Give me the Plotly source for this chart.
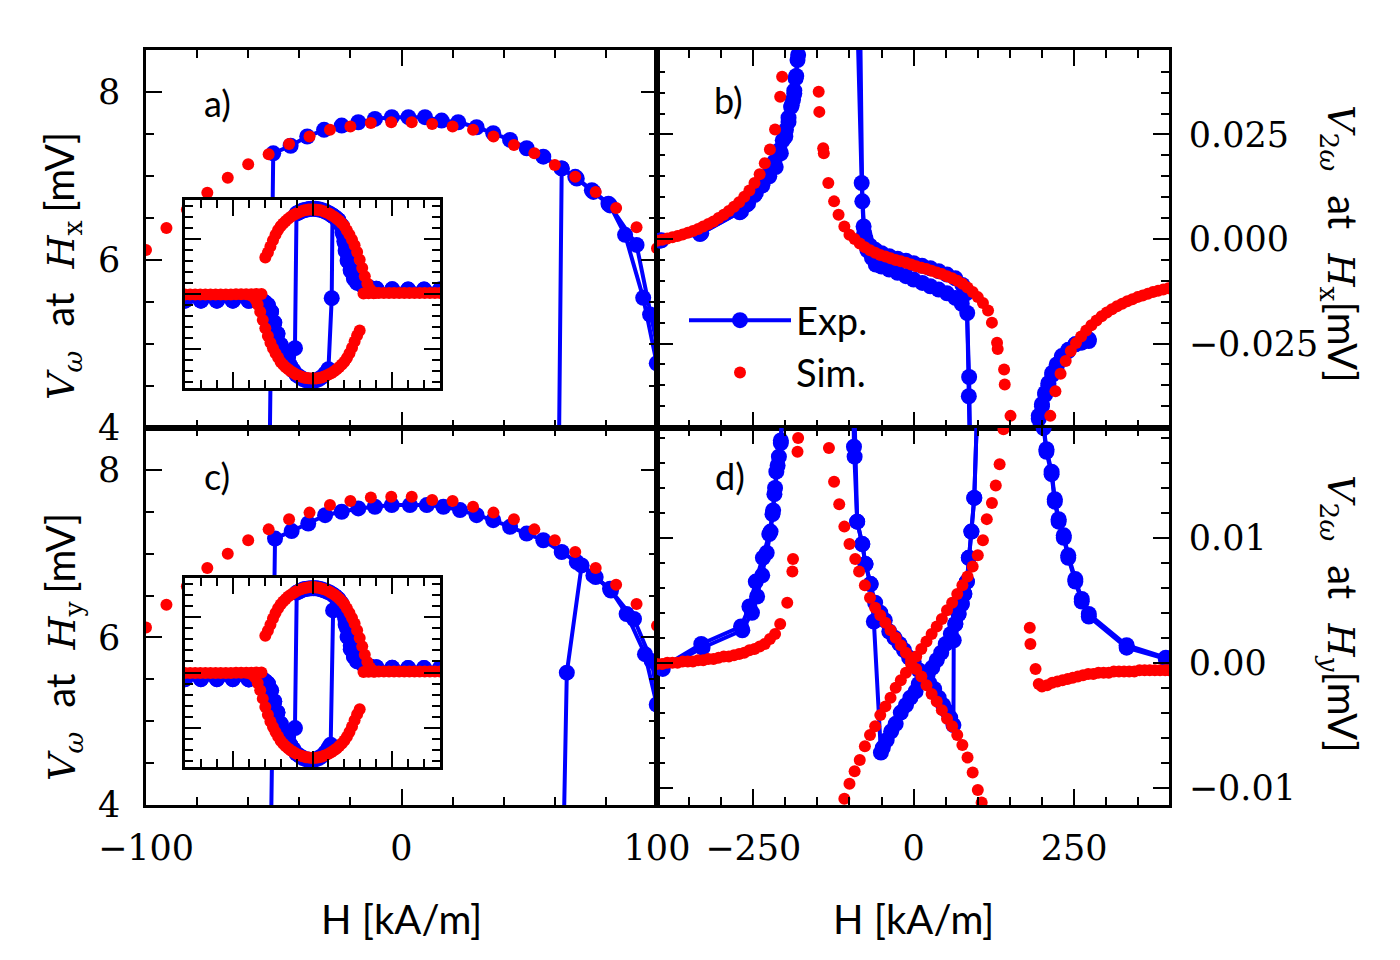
import plotly.graph_objects as go

# ----- Panel a / inset a : first harmonic, field along x -----
exp_hx_dn_h = [400, 350, 300, 250, 200, 180, 160, 140, 130, 120, 110, 104, 99.9, 94.6, 87.5, 81.6, 75.1, 68.6, 62.7, 55.5,
               49.0, 42.5, 35.9, 29.4, 22.2, 15.7, 9.2, 2.7, -3.8, -10.4, -16.9, -23.4, -30.3, -36.9, -43.4, -50.2, -55.0,
               -62.0, -70, -80, -90, -100, -110, -120, -130, -140, -150, -170, -200, -250, -300, -350, -400]
exp_hx_dn_v = [0.4, 0.4, 0.4, 0.42, 0.48, 0.55, 0.7, 1.0, 1.4, 2.1, 3.0, 3.9, 4.77, 5.55, 6.30, 6.65, 6.81, 6.97, 7.09, 7.23,
               7.33, 7.43, 7.51, 7.58, 7.64, 7.66, 7.70, 7.70, 7.70, 7.68, 7.64, 7.60, 7.55, 7.47, 7.36, 7.27, -4.9,
               -6.9, -6.5, -6.0, -5.4, -4.6, -3.6, -2.6, -1.6, -1.0, -0.75, -0.65, -0.62, -0.6, -0.6, -0.6, -0.6]
exp_hx_up_h = [-400, -350, -300, -250, -200, -170, -150, -140, -130, -120, -110, -100, -90, -80, -70, -60, -50, -40, -30,
               -20, -10, 0, 10, 20, 30, 40, 50, 60.3, 62.7, 68.0, 74.5, 81.0, 92.0, 97.3, 102, 106, 112, 120, 130, 140,
               160, 180, 200, 250, 300, 350, 400]
exp_hx_up_v = [-0.6, -0.6, -0.6, -0.6, -0.62, -0.65, -0.75, -1.0, -1.6, -2.6, -3.6, -4.6, -5.4, -6.0, -6.5, -6.9, -7.3,
               -7.5, -7.7, -7.8, -7.85, -7.85, -7.8, -7.7, -7.5, -7.2, -6.8, -0.38, 7.09, 6.99, 6.83, 6.67, 6.18, 5.35,
               4.6, 4.0, 3.2, 2.2, 1.5, 1.05, 0.7, 0.55, 0.48, 0.42, 0.4, 0.4, 0.4]

sim_hump_h = [196, 188, 180, 172, 164, 156, 148, 140, 132, 124, 116, 108, 100, 92, 84, 76, 68, 60, 52, 44, 36, 28, 20,
              12, 4, -4, -12, -20, -28, -36, -44, -52, -60, -68, -76, -84, -92, -100, -108, -116, -124, -132, -140, -148]
sim_dip_h = [-196, -188, -180, -172, -164, -156, -148, -140, -132, -124, -116, -108, -100, -92, -84, -76, -68, -60, -52,
             -44, -36, -28, -20, -12, -4, 4, 12, 20, 28, 36, 44, 52, 60, 68, 76, 84, 92, 100, 108, 116, 124, 132, 140, 148]
sim_flat_h = [-400, -384, -368, -352, -336, -320, -304, -288, -272, -256, -240, -224, -208, -192, -176, -160,
              160, 176, 192, 208, 224, 240, 256, 272, 288, 304, 320, 336, 352, 368, 384, 400]
sim_flat_v = [-0.05, -0.05, -0.05, -0.05, -0.05, -0.05, -0.05, -0.04, -0.04, -0.04, -0.03, -0.03, -0.02, -0.02, -0.01, 0.0,
              0.05, 0.06, 0.07, 0.08, 0.08, 0.09, 0.09, 0.1, 0.1, 0.1, 0.1, 0.1, 0.1, 0.1, 0.1, 0.1]

sim_hx_hump_v = [0.1, 0.2, 0.45, 0.95, 1.6, 2.35, 3.1, 3.8, 4.4, 4.9, 5.35, 5.75, 6.14, 6.39, 6.62, 6.81, 6.99, 7.13,
                 7.27, 7.37, 7.47, 7.55, 7.59, 7.62, 7.64, 7.64, 7.63, 7.59, 7.55, 7.47, 7.38, 7.26, 7.14, 6.98, 6.80,
                 6.60, 6.38, 6.12, 5.78, 5.35, 4.85, 4.3, 3.75, 3.3]
sim_hx_dip_v = [-0.1, -0.2, -0.45, -0.95, -1.6, -2.35, -3.1, -3.8, -4.4, -4.9, -5.35, -5.75, -6.14, -6.39, -6.62, -6.81,
                -6.99, -7.13, -7.27, -7.37, -7.47, -7.55, -7.59, -7.62, -7.64, -7.64, -7.63, -7.59, -7.55, -7.47, -7.38,
                -7.26, -7.14, -6.98, -6.80, -6.60, -6.38, -6.12, -5.78, -5.35, -4.85, -4.3, -3.75, -3.3]

# ----- Panel c / inset c : first harmonic, field along y -----
exp_hy_dn_h = [400, 350, 300, 250, 200, 180, 160, 140, 130, 120, 110, 104, 99.9, 95.3, 88.1, 81.6, 75.1, 68.6, 62.7, 55.5,
               49.0, 42.5, 35.9, 29.4, 22.9, 16.4, 9.9, 3.3, -3.8, -10.4, -16.9, -23.4, -29.9, -36.5, -43.0, -49.5, -55.0,
               -62.0, -70, -80, -90, -100, -110, -120, -130, -140, -150, -170, -200, -250, -300, -350, -400]
exp_hy_dn_v = [0.4, 0.4, 0.4, 0.42, 0.48, 0.55, 0.7, 1.0, 1.4, 2.1, 3.2, 4.3, 5.20, 5.80, 6.28, 6.58, 6.74, 6.90, 7.02, 7.16,
               7.24, 7.32, 7.40, 7.46, 7.52, 7.56, 7.58, 7.58, 7.58, 7.56, 7.54, 7.50, 7.46, 7.36, 7.27, 7.18, -5.0,
               -6.9, -6.5, -6.0, -5.4, -4.6, -3.6, -2.6, -1.6, -1.0, -0.75, -0.65, -0.62, -0.6, -0.6, -0.6, -0.6]
exp_hy_up_h = [-400, -350, -300, -250, -200, -170, -150, -140, -130, -120, -110, -100, -90, -80, -70, -60, -50, -40, -30,
               -20, -10, 0, 10, 20, 30, 40, 50, 57, 64.7, 70.5, 76.0, 82.0, 91.0, 97.9, 103, 108, 114, 120, 130, 140,
               160, 180, 200, 250, 300, 350, 400]
exp_hy_up_v = [-0.6, -0.6, -0.6, -0.6, -0.62, -0.65, -0.75, -1.0, -1.6, -2.6, -3.6, -4.6, -5.4, -6.0, -6.5, -6.9, -7.3,
               -7.5, -7.7, -7.8, -7.85, -7.85, -7.8, -7.7, -7.5, -7.2, -6.8, -6.5, 5.58, 6.86, 6.72, 6.56, 6.22, 5.72,
               4.8, 4.0, 3.2, 2.4, 1.5, 1.05, 0.7, 0.55, 0.48, 0.42, 0.4, 0.4, 0.4]
sim_hy_hump_v = [0.1, 0.2, 0.45, 0.95, 1.6, 2.35, 3.1, 3.8, 4.4, 4.9, 5.35, 5.75, 6.14, 6.40, 6.63, 6.83, 7.02, 7.16,
                 7.29, 7.41, 7.49, 7.56, 7.63, 7.64, 7.68, 7.68, 7.67, 7.63, 7.58, 7.49, 7.41, 7.29, 7.16, 7.00, 6.83,
                 6.61, 6.39, 6.12, 5.78, 5.35, 4.85, 4.3, 3.75, 3.3]
sim_hy_dip_v = [-0.1, -0.2, -0.45, -0.95, -1.6, -2.35, -3.1, -3.8, -4.4, -4.9, -5.35, -5.75, -6.14, -6.40, -6.63, -6.83,
                -7.02, -7.16, -7.29, -7.41, -7.49, -7.56, -7.63, -7.64, -7.68, -7.68, -7.67, -7.63, -7.58, -7.49, -7.41,
                -7.29, -7.16, -7.00, -6.83, -6.61, -6.39, -6.12, -5.78, -5.35, -4.85, -4.3, -3.75, -3.3]

# ----- Panel b : second harmonic, field along x -----
exp_b_up_h = [-393, -331, -269, -258, -246, -235, -225, -217, -209, -204, -199, -195, -191, -188, -186, -184, -181, -170,
              -120, -89, -81, -77, -72, -65, -59, -50, -38, -25, -12, 0, 13.5, 26, 39, 52, 65, 75, 83.5, 86, 90, 140,
              180, 192, 195, 200, 205, 210, 216, 223, 231, 241, 252, 262, 273]
exp_b_up_v = [-0.0003, 0.0014, 0.0066, 0.0085, 0.0110, 0.0135, 0.0157, 0.0185, 0.0213, 0.0236, 0.0261, 0.0290, 0.0316,
              0.0333, 0.0348, 0.0384, 0.0428, 0.07, 0.12, 0.06, 0.0134, 0.0014, -0.0027, -0.0045, -0.0061, -0.0066,
              -0.0073, -0.0081, -0.0089, -0.0097, -0.0105, -0.0113, -0.0121, -0.0130, -0.0141, -0.0155, -0.0177,
              -0.0376, -0.07, -0.12, -0.09, -0.046, -0.0423, -0.0395, -0.0368, -0.0345, -0.0320, -0.0300, -0.0280,
              -0.0265, -0.0252, -0.0248, -0.0244]
exp_b_dn_h = [273, 262, 252, 241, 231, 223, 216, 210, 205, 200, 195, 191, 180, 120, 90, 86.5, 82, 76, 65, 52, 39, 26, 13,
              0, -12, -25, -38, -50, -60, -68, -75, -78, -80, -84, -120, -176, -180, -183, -186, -190, -195, -200, -207,
              -215, -225, -236, -248, -260, -271, -333, -395]
exp_b_dn_v = [-0.0240, -0.0246, -0.0252, -0.0268, -0.0285, -0.0305, -0.0325, -0.0350, -0.0372, -0.0400, -0.0430, -0.0470,
              -0.09, -0.12, -0.07, -0.0330, -0.0130, -0.0110, -0.0094, -0.0085, -0.0077, -0.0070, -0.0064, -0.0058,
              -0.0052, -0.0047, -0.0041, -0.0034, -0.0026, -0.0016, 0.0002, 0.0030, 0.0090, 0.06, 0.12, 0.07, 0.0440,
              0.0390, 0.0355, 0.0320, 0.0280, 0.0245, 0.0205, 0.0172, 0.0150, 0.0128, 0.0105, 0.0082, 0.0064, 0.0012,
              -0.0004]
sim_b_h = [-400, -392, -384, -376, -368, -360, -352, -344, -336, -328, -320, -312, -304, -296, -288, -280, -272, -264,
           -256, -248, -240, -232, -224, -216, -208, -205,
           -148, -147, -141, -140, -133, -124, -117, -108, -100, -92, -84, -76, -68, -60, -52, -44, -36, -28, -20, -12,
           -4, 4, 12, 20, 28, 36, 44, 52, 60, 68, 76, 84, 92, 100, 108, 116, 122, 130, 131, 141, 142, 151,
           213, 221, 229, 237, 245, 253, 261, 269, 277, 285, 293, 301, 309, 317, 325, 333, 341, 349, 357, 365, 373,
           381, 389, 397]
sim_b_v = [-0.0004, -0.0002, 0.0001, 0.0004, 0.0007, 0.0011, 0.0015, 0.0019, 0.0024, 0.0030, 0.0036, 0.0042, 0.0050,
           0.0058, 0.0067, 0.0077, 0.0088, 0.0101, 0.0116, 0.0134, 0.0155, 0.0181, 0.0214, 0.0262, 0.0340, 0.0388,
           0.0352, 0.0304, 0.0217, 0.0205, 0.0134, 0.0090, 0.0058, 0.0030, 0.0010, 0.0000, -0.0011, -0.0020, -0.0027,
           -0.0033, -0.0038, -0.0042, -0.0046, -0.0050, -0.0053, -0.0057, -0.0061, -0.0065, -0.0069, -0.0072, -0.0076,
           -0.0080, -0.0084, -0.0089, -0.0094, -0.0100, -0.0107, -0.0116, -0.0127, -0.0139, -0.0153, -0.0171, -0.0200,
           -0.0248, -0.0263, -0.0312, -0.0348, -0.0423,
           -0.0423, -0.0364, -0.0322, -0.0292, -0.0268, -0.0249, -0.0233, -0.0219, -0.0206, -0.0195, -0.0185, -0.0176,
           -0.0168, -0.0161, -0.0155, -0.0149, -0.0144, -0.0139, -0.0135, -0.0131, -0.0127, -0.0124, -0.0121, -0.0118]

# ----- Panel d : second harmonic, field along y -----
exp_d_up_h = [-393, -331, -269, -256, -246, -235, -225, -220, -217, -214, -210, -207, -200, -150, -97, -93, -88, -80, -75,
              -67, -60, -52, -45, -38, -30, -22, -15, -7, 0, 8, 16, 24, 32, 39, 46, 52, 57, 62, 62.5, 65, 70, 75, 79,
              83, 86, 90, 94.5, 102, 150, 199, 202.6, 207, 215, 220, 226, 234, 241, 252, 262, 273, 332, 393]
exp_d_up_v = [-0.0004, 0.0015, 0.0029, 0.0045, 0.0065, 0.0084, 0.0103, 0.0119, 0.0135, 0.0153, 0.0165, 0.0176, 0.025,
              0.04, 0.03, 0.0173, 0.0113, 0.0095, 0.0079, 0.0063, 0.0048, 0.0040, 0.0034, 0.0025, 0.0020, 0.0015,
              0.0010, 0.0004, 0.0001, -0.0006, -0.0011, -0.0016, -0.0021, -0.0028, -0.0034, -0.0039, -0.0044, -0.0050,
              0.0018, 0.0031, 0.0039, 0.0047, 0.0055, 0.0065, 0.0084, 0.0105, 0.0132, 0.025, 0.04, 0.025, 0.0188,
              0.0169, 0.0151, 0.0129, 0.0113, 0.0100, 0.0084, 0.0065, 0.0049, 0.0037, 0.0012, 0.0003]
exp_d_dn_h = [393, 332, 273, 262, 252, 241, 234, 226, 220, 215, 207, 202, 199, 150, 102, 94.5, 90, 86, 83, 79, 75, 70,
              65, 58, 50, 43, 36, 29, 22, 15, 8, 3, -5, -12, -20, -28, -35, -42, -48, -51, -62, -67, -75, -80, -88,
              -92, -97, -150, -200, -207, -212, -216, -219, -223, -229, -236, -244, -252, -267, -329, -391]
exp_d_dn_v = [0.0004, 0.0014, 0.0039, 0.0051, 0.0067, 0.0086, 0.0102, 0.0115, 0.0131, 0.0153, 0.0171, 0.0192, 0.025,
              0.04, 0.025, 0.0132, 0.0105, 0.0084, 0.0065, 0.0055, 0.0047, 0.0039, 0.0031, 0.0023, 0.0015, 0.0008,
              0.0002, -0.0004, -0.0009, -0.0013, -0.0017, -0.0023, -0.0028, -0.0034, -0.0040, -0.0049, -0.0055,
              -0.0062, -0.0068, -0.0072, 0.0033, 0.0063, 0.0079, 0.0095, 0.0113, 0.0165, 0.03, 0.04, 0.025, 0.0178,
              0.0158, 0.0140, 0.0122, 0.0105, 0.0088, 0.0070, 0.0053, 0.0040, 0.0026, 0.0012, -0.0005]
sim_d_h = [-400, -392, -384, -376, -368, -360, -352, -344, -336, -328, -320, -312, -304, -296, -288, -280, -272, -264,
           -256, -248, -240, -232, -224, -216, -208, -197, -189, -188, -181, -180,
           -132, -124, -116, -108, -100, -91, -85, -76, -68, -60, -52, -44, -36, -28, -20, -12, -4, 4, 12, 20, 28, 36,
           44, 52, 60, 68, 76, 84, 92, 100, 106,
           -108, -100, -92, -84, -76, -68, -60, -52, -44, -36, -28, -20, -12, -4, 4, 12, 20, 28, 36, 44, 52, 60, 68,
           76, 84, 92, 100, 108, 114, 122, 128, 134, 140,
           181, 182, 190, 195, 200, 208, 216, 224, 232, 240, 248, 256, 264, 272, 280, 288, 296, 304, 312, 320, 328,
           336, 344, 352, 360, 368, 376, 384, 392, 398]
sim_d_v = [-0.0001, -0.0001, 0.0000, 0.0000, 0.0000, 0.0001, 0.0001, 0.0001, 0.0002, 0.0002, 0.0003, 0.0003, 0.0004,
           0.0005, 0.0005, 0.0006, 0.0007, 0.0008, 0.0010, 0.0011, 0.0013, 0.0015, 0.0019, 0.0023, 0.0031, 0.0048,
           0.0073, 0.0083, 0.0169, 0.0180,
           0.0172, 0.0145, 0.0127, 0.0109, 0.0095, 0.0083, 0.0073, 0.0062, 0.0052, 0.0044, 0.0038, 0.0032, 0.0026,
           0.0020, 0.0014, 0.0008, 0.0002, -0.0005, -0.0011, -0.0018, -0.0025, -0.0031, -0.0038, -0.0045, -0.0051,
           -0.0058, -0.0066, -0.0076, -0.0088, -0.0102, -0.0112,
           -0.0109, -0.0097, -0.0087, -0.0078, -0.0067, -0.0058, -0.0051, -0.0042, -0.0035, -0.0028, -0.0020, -0.0014,
           -0.0008, -0.0001, 0.0005, 0.0011, 0.0017, 0.0023, 0.0029, 0.0035, 0.0042, 0.0048, 0.0055, 0.0062, 0.0069,
           0.0077, 0.0086, 0.0098, 0.0115, 0.0128, 0.0142, 0.0159, 0.0187,
           0.0028, 0.0015, -0.0005, -0.0017, -0.0019, -0.0018, -0.0016, -0.0015, -0.0014, -0.0013, -0.0012, -0.0011,
           -0.0010, -0.0009, -0.0009, -0.0008, -0.0008, -0.0008, -0.0007, -0.0007, -0.0007, -0.0007, -0.0007,
           -0.0006, -0.0006, -0.0006, -0.0006, -0.0006, -0.0006, -0.0006]

# the page body has an 8 px margin, so the figure is 8 px smaller than the window
PAGE_OFF = 8
FIG_W, FIG_H = 1400 - PAGE_OFF, 960 - PAGE_OFF
BLUE = "#0000ff"
RED = "#ff0000"
SERIF = "DejaVu Serif"
SANS = "Lato"


def _px(p):
    return (p - PAGE_OFF) / FIG_W


def _py(p):
    return 1 - (p - PAGE_OFF) / FIG_H


def _dx(left, right):
    return [_px(left), _px(right)]


def _dy(top, bottom):
    return [_py(bottom), _py(top)]


def _axis(domain, rng, dtick, minor, anchor, labels=False, side=None, fmt=None, standoff=None):
    ax = dict(
        domain=domain, range=rng, anchor=anchor,
        showline=True, linecolor="black", linewidth=2.5, mirror="allticks",
        ticks="inside", ticklen=16, tickwidth=2, tickcolor="black",
        tick0=0, dtick=dtick,
        minor=dict(tick0=0, dtick=minor, ticks="inside", ticklen=8, tickwidth=2,
                   tickcolor="black", showgrid=False),
        showgrid=False, zeroline=False, showticklabels=labels,
        tickfont=dict(family=SERIF, size=35, color="black"),
        automargin=False, fixedrange=True,
    )
    if side:
        ax["side"] = side
    if fmt:
        ax["tickformat"] = fmt
    if standoff is not None:
        ax["ticklabelstandoff"] = standoff
    return ax


def _exp(fig, h, v, xa, ya, show=False):
    fig.add_trace(go.Scatter(
        x=h, y=v, xaxis=xa, yaxis=ya, mode="lines+markers", name="Exp.", showlegend=show,
        line=dict(color=BLUE, width=4), marker=dict(color=BLUE, size=16)))


def _sim(fig, h, v, xa, ya, show=False):
    fig.add_trace(go.Scatter(
        x=h, y=v, xaxis=xa, yaxis=ya, mode="markers", name="Sim.", showlegend=show,
        marker=dict(color=RED, size=12)))


fig = go.Figure()

# panel a and its inset
for xa, ya in (("x", "y"), ("x5", "y5")):
    first = xa == "x"
    _exp(fig, exp_hx_dn_h, exp_hx_dn_v, xa, ya, show=first)
    _exp(fig, exp_hx_up_h, exp_hx_up_v, xa, ya)
    _sim(fig, sim_hump_h, sim_hx_hump_v, xa, ya, show=first)
    _sim(fig, sim_dip_h, sim_hx_dip_v, xa, ya)
    _sim(fig, sim_flat_h, sim_flat_v, xa, ya)

# panel c and its inset
for xa, ya in (("x3", "y3"), ("x6", "y6")):
    _exp(fig, exp_hy_dn_h, exp_hy_dn_v, xa, ya)
    _exp(fig, exp_hy_up_h, exp_hy_up_v, xa, ya)
    _sim(fig, sim_hump_h, sim_hy_hump_v, xa, ya)
    _sim(fig, sim_dip_h, sim_hy_dip_v, xa, ya)
    _sim(fig, sim_flat_h, sim_flat_v, xa, ya)

# panel b
_exp(fig, exp_b_up_h, exp_b_up_v, "x2", "y2")
_exp(fig, exp_b_dn_h, exp_b_dn_v, "x2", "y2")
_sim(fig, sim_b_h, sim_b_v, "x2", "y2")

# panel d
_exp(fig, exp_d_up_h, exp_d_up_v, "x4", "y4")
_exp(fig, exp_d_dn_h, exp_d_dn_v, "x4", "y4")
_sim(fig, sim_d_h, sim_d_v, "x4", "y4")

# panel edges, in page pixels
LEFT, MID, RIGHT = 146, 657, 1169
TOP, CEN, BOT = 50, 428, 805

fig.update_layout(
    width=FIG_W, height=FIG_H, template="none",
    margin=dict(l=0, r=0, t=0, b=0),
    paper_bgcolor="white", plot_bgcolor="white",
    xaxis=_axis(_dx(LEFT, MID), [-100, 100], 100, 20, "y"),
    yaxis=_axis(_dy(TOP, CEN), [4, 8.5], 2, 0.5, "x", labels=True, standoff=16),
    xaxis2=_axis(_dx(MID, RIGHT), [-400, 398], 250, 50, "y2"),
    yaxis2=_axis(_dy(TOP, CEN), [-0.0452, 0.0452], 0.025, 0.005, "x2", labels=True,
                 side="right", fmt=".3f", standoff=10),
    xaxis3=_axis(_dx(LEFT, MID), [-100, 100], 100, 20, "y3", labels=True, standoff=10),
    yaxis3=_axis(_dy(CEN, BOT), [4, 8.5], 2, 0.5, "x3", labels=True, standoff=16),
    xaxis4=_axis(_dx(MID, RIGHT), [-400, 398], 250, 50, "y4", labels=True, standoff=10),
    yaxis4=_axis(_dy(CEN, BOT), [-0.0114, 0.0188], 0.01, 0.002, "x4", labels=True,
                 side="right", fmt=".2f", standoff=10),
    xaxis5=_axis(_dx(185, 440), [-400, 400], 250, 50, "y5"),
    yaxis5=_axis(_dy(200, 388), [-8.5, 8.5], 5, 1, "x5"),
    xaxis6=_axis(_dx(185, 440), [-400, 400], 250, 50, "y6"),
    yaxis6=_axis(_dy(578, 767), [-8.5, 8.5], 5, 1, "x6"),
    legend=dict(x=_px(684), y=_py(289), xanchor="left", yanchor="top",
                font=dict(family=SANS, size=38, color="black"), bgcolor="rgba(0,0,0,0)",
                itemwidth=102, traceorder="normal"),
)

SANS_SPAN = "<span style='font-family:Lato;font-size:40px'>{}</span>"
at = SANS_SPAN.format("at")
mv = SANS_SPAN.format("[mV]")
gap = "\u00a0\u00a0"
thin = "\u2009"
labels = [
    ("<i>V</i><sub><i>ω</i></sub>" + gap + at + gap + "<i>H</i><sub>x</sub>" + thin + mv, 62, 266, -90),
    ("<i>V</i><sub><i>ω</i></sub>" + gap + at + gap + "<i>H</i><sub>y</sub>" + thin + mv, 62, 647, -90),
    ("<i>V</i><sub>2<i>ω</i></sub>" + gap + at + gap + "<i>H</i><sub>x</sub>" + mv, 1341, 244, 90),
    ("<i>V</i><sub>2<i>ω</i></sub>" + gap + at + gap + "<i>H</i><sub><i>y</i></sub>" + mv, 1341, 614, 90),
]
for text, px, py, angle in labels:
    fig.add_annotation(text=text, x=_px(px), y=_py(py), xref="paper", yref="paper",
                       showarrow=False, textangle=angle, xanchor="center", yanchor="middle",
                       font=dict(family=SERIF, size=38, color="black"))

for px in (401, 913):
    fig.add_annotation(text="H [kA/m]", x=_px(px), y=_py(919), xref="paper", yref="paper",
                       showarrow=False, xanchor="center", yanchor="middle",
                       font=dict(family=SANS, size=40, color="black"))

for text, px, py in (("a)", 202, 103), ("b)", 712, 100), ("c)", 202, 476), ("d)", 713, 476)):
    fig.add_annotation(text=text, x=_px(px), y=_py(py), xref="paper", yref="paper",
                       showarrow=False, xanchor="left", yanchor="middle",
                       font=dict(family=SANS, size=36, color="black"))

fig.write_html("out.html")
